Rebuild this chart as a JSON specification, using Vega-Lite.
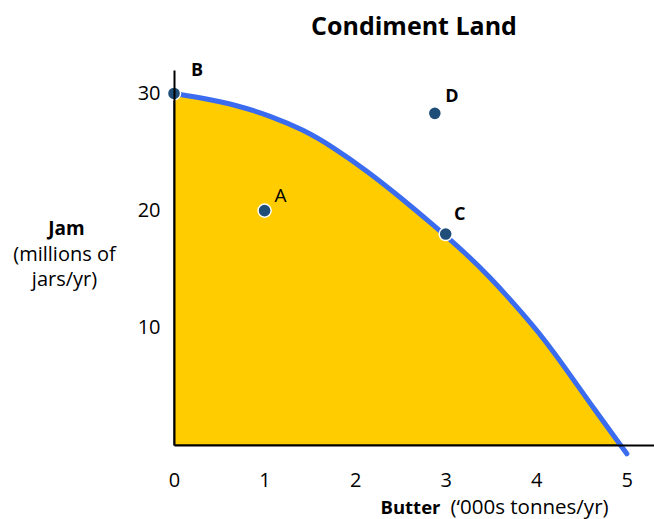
{
  "$schema": "https://vega.github.io/schema/vega-lite/v6.json",
  "width": 480,
  "height": 375,
  "autosize": "none",
  "padding": {"left": 174, "top": 70, "right": 0, "bottom": 74},
  "background": "white",
  "title": {"text": "Condiment Land", "font": "Open Sans", "fontSize": 25, "fontWeight": "bold", "color": "black", "anchor": "middle", "offset": 22},
  "config": {
    "view": {"stroke": null},
    "axis": {"grid": false, "ticks": false, "domainColor": "black", "domainWidth": 2, "labelFont": "Open Sans", "labelFontSize": 20, "labelColor": "black", "labelFlush": false, "titleFont": "Open Sans", "titleColor": "black", "titleFontSize": 20}
  },
  "datasets": {
    "curve": [
      {"butter": 0, "jam": 30},
      {"butter": 0.32, "jam": 29.6},
      {"butter": 0.69, "jam": 29.0},
      {"butter": 1.06, "jam": 28.1},
      {"butter": 1.43, "jam": 26.9},
      {"butter": 1.76, "jam": 25.4},
      {"butter": 2.13, "jam": 23.4},
      {"butter": 2.49, "jam": 21.2},
      {"butter": 2.86, "jam": 18.8},
      {"butter": 3.23, "jam": 16.3},
      {"butter": 3.49, "jam": 14.3},
      {"butter": 3.75, "jam": 12.1},
      {"butter": 4.02, "jam": 9.7},
      {"butter": 4.3, "jam": 6.8},
      {"butter": 4.59, "jam": 3.6},
      {"butter": 4.93, "jam": 0}
    ],
    "frontier": [
      {"butter": 0, "jam": 30},
      {"butter": 0.32, "jam": 29.6},
      {"butter": 0.69, "jam": 29.0},
      {"butter": 1.06, "jam": 28.1},
      {"butter": 1.43, "jam": 26.9},
      {"butter": 1.76, "jam": 25.4},
      {"butter": 2.13, "jam": 23.4},
      {"butter": 2.49, "jam": 21.2},
      {"butter": 2.86, "jam": 18.8},
      {"butter": 3.23, "jam": 16.3},
      {"butter": 3.49, "jam": 14.3},
      {"butter": 3.75, "jam": 12.1},
      {"butter": 4.02, "jam": 9.7},
      {"butter": 4.3, "jam": 6.8},
      {"butter": 4.59, "jam": 3.6},
      {"butter": 4.93, "jam": 0},
      {"butter": 5.0, "jam": -0.75}
    ],
    "points": [
      {"label": "A", "butter": 1, "jam": 20},
      {"label": "B", "butter": 0, "jam": 30},
      {"label": "C", "butter": 3, "jam": 18},
      {"label": "D", "butter": 2.88, "jam": 28.3}
    ]
  },
  "resolve": {"axis": {"x": "independent", "y": "independent"}},
  "layer": [
    {
      "data": {"name": "curve"},
      "mark": {"type": "area", "color": "#FFCC00", "opacity": 1, "interpolate": "basis", "stroke": "black", "strokeWidth": 1.2},
      "encoding": {
        "x": {"field": "butter", "type": "quantitative", "scale": {"domain": [0, 5.3], "nice": false},
          "axis": {"values": [0, 1, 2, 3, 4, 5], "labelPadding": 25, "zindex": 1, "title": "Butter", "titleFontSize": 18.5, "titleFontWeight": "bold", "titleAlign": "left", "titleBaseline": "alphabetic", "titleX": 206, "titleY": 68}},
        "y": {"field": "jam", "type": "quantitative", "scale": {"domain": [0, 32], "nice": false},
          "axis": {"values": [10, 20, 30], "labelPadding": 14, "zindex": 1, "title": "Jam", "titleFontSize": 19, "titleFontWeight": "bold", "titleAngle": 0, "titleAlign": "center", "titleBaseline": "alphabetic", "titleX": -108, "titleY": 164}}
      }
    },
    {
      "data": {"name": "frontier"},
      "mark": {"type": "line", "color": "#3B6CF0", "strokeWidth": 5, "strokeCap": "round", "interpolate": "basis"},
      "encoding": {
        "x": {"field": "butter", "type": "quantitative", "scale": {"domain": [0, 5.3], "nice": false},
          "axis": {"orient": "bottom", "labels": false, "domain": false, "ticks": false, "title": "(‘000s tonnes/yr)", "titleFontSize": 20.5, "titleFontWeight": "normal", "titleAlign": "left", "titleBaseline": "alphabetic", "titleX": 276, "titleY": 68}},
        "y": {"field": "jam", "type": "quantitative", "scale": {"domain": [0, 32], "nice": false},
          "axis": {"orient": "left", "labels": false, "domain": false, "ticks": false, "title": ["(millions of", "jars/yr)"], "titleFontSize": 20, "titleFontWeight": "normal", "titleAngle": 0, "titleAlign": "center", "titleBaseline": "alphabetic", "titleLineHeight": 25, "titleX": -110, "titleY": 190}}
      }
    },
    {
      "data": {"name": "points"},
      "mark": {"type": "circle", "size": 170, "color": "#1F4E79", "opacity": 1, "stroke": "white", "strokeWidth": 1.5},
      "encoding": {
        "x": {"field": "butter", "type": "quantitative", "axis": null},
        "y": {"field": "jam", "type": "quantitative", "axis": null}
      }
    },
    {
      "data": {"name": "points"},
      "transform": [{"filter": "datum.label === 'A'"}],
      "mark": {"type": "text", "font": "Open Sans", "fontSize": 19, "color": "black", "dx": 16, "dy": -15},
      "encoding": {
        "x": {"field": "butter", "type": "quantitative", "axis": null},
        "y": {"field": "jam", "type": "quantitative", "axis": null},
        "text": {"field": "label"}
      }
    },
    {
      "data": {"name": "points"},
      "transform": [{"filter": "datum.label === 'B'"}],
      "mark": {"type": "text", "font": "Open Sans", "fontSize": 18, "fontWeight": "bold", "color": "black", "dx": 23, "dy": -22},
      "encoding": {
        "x": {"field": "butter", "type": "quantitative", "axis": null},
        "y": {"field": "jam", "type": "quantitative", "axis": null},
        "text": {"field": "label"}
      }
    },
    {
      "data": {"name": "points"},
      "transform": [{"filter": "datum.label === 'C'"}],
      "mark": {"type": "text", "font": "Open Sans", "fontSize": 18, "fontWeight": "bold", "color": "black", "dx": 14, "dy": -19},
      "encoding": {
        "x": {"field": "butter", "type": "quantitative", "axis": null},
        "y": {"field": "jam", "type": "quantitative", "axis": null},
        "text": {"field": "label"}
      }
    },
    {
      "data": {"name": "points"},
      "transform": [{"filter": "datum.label === 'D'"}],
      "mark": {"type": "text", "font": "Open Sans", "fontSize": 18, "fontWeight": "bold", "color": "black", "dx": 17, "dy": -16},
      "encoding": {
        "x": {"field": "butter", "type": "quantitative", "axis": null},
        "y": {"field": "jam", "type": "quantitative", "axis": null},
        "text": {"field": "label"}
      }
    }
  ]
}
